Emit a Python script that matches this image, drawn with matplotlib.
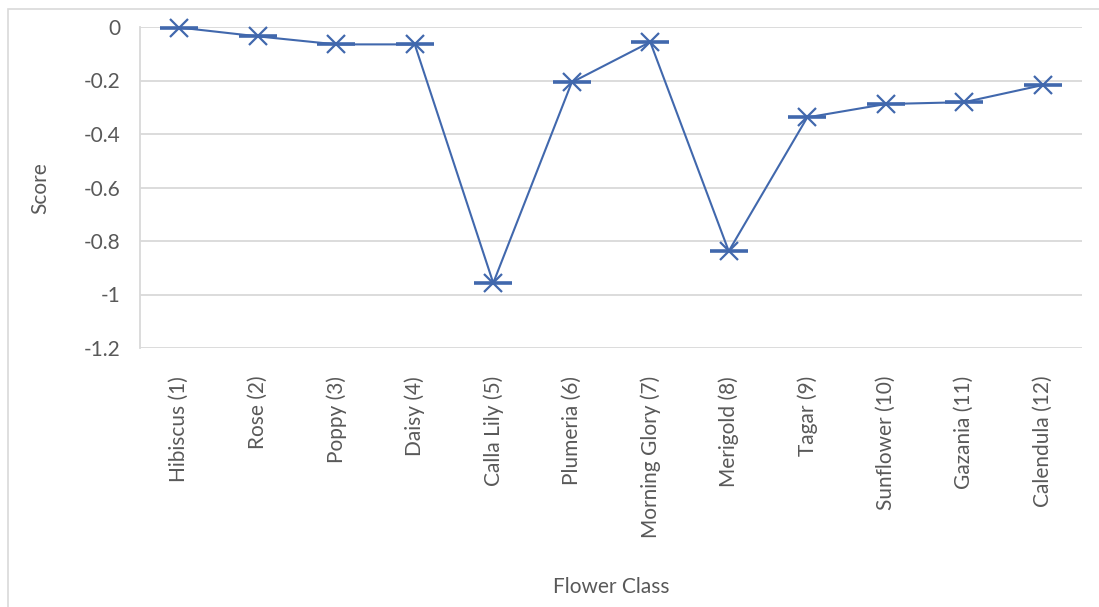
import matplotlib
matplotlib.use("Agg")
import matplotlib.pyplot as plt
from matplotlib.patches import Rectangle

categories = ["Hibiscus (1)", "Rose (2)", "Poppy (3)", "Daisy (4)", "Calla Lily (5)",
              "Plumeria (6)", "Morning Glory (7)", "Merigold (8)", "Tagar (9)",
              "Sunflower (10)", "Gazania (11)", "Calendula (12)"]
scores = [-0.002, -0.035, -0.065, -0.065, -0.957, -0.207, -0.056, -0.838,
          -0.338, -0.288, -0.281, -0.217]
y_ticks = [0, -0.2, -0.4, -0.6, -0.8, -1, -1.2]
y_tick_labels = ["0", "-0.2", "-0.4", "-0.6", "-0.8", "-1", "-1.2"]

W, H, DPI = 1099, 607, 100
plt.rcParams["font.family"] = ["Lato", "DejaVu Sans"]
text_color = "#595959"
line_color = "#4168AD"
grid_color = "#D9D9D9"

fig = plt.figure(figsize=(W / DPI, H / DPI), dpi=DPI)
fig.patch.set_facecolor("white")

# chart-area border (runs off the right and bottom edges)
fig.patches.append(Rectangle((8 / W, -0.2), 1.2, 1.2 - 9 / H, transform=fig.transFigure,
                             fill=False, edgecolor="#D9D9D9", linewidth=1.2, zorder=0))

left, right, top, bottom = 140, 1082, 27, 348
ax = fig.add_axes([left / W, 1 - bottom / H, (right - left) / W, (bottom - top) / H])

x = list(range(len(categories)))
ax.plot(x, scores, color=line_color, linewidth=1.5, zorder=3, clip_on=False)
ax.plot(x, scores, linestyle="none", marker="x", markersize=13, markeredgewidth=1.6,
        color=line_color, zorder=4, clip_on=False)
ax.plot(x, scores, linestyle="none", marker="_", markersize=28, markeredgewidth=2.6,
        color=line_color, zorder=4, clip_on=False)

ax.set_xlim(-0.5, len(categories) - 0.5)
ax.set_ylim(-1.2, 0)
ax.set_yticks(y_ticks)
ax.set_yticklabels(y_tick_labels)
ax.set_xticks(x)
ax.set_xticklabels(categories, rotation=90, va="top", ha="center")

for v in y_ticks:
    ax.axhline(v, color=grid_color, linewidth=1.3, zorder=1)

for s in ["top", "right", "bottom"]:
    ax.spines[s].set_visible(False)
ax.spines["left"].set_color(grid_color)
ax.spines["left"].set_linewidth(1.3)

ax.tick_params(axis="both", length=0, labelsize=15, colors=text_color)
ax.tick_params(axis="y", pad=14)
ax.tick_params(axis="x", pad=20)

fig.text(40 / W, 1 - 188 / H, "Score", rotation=90, ha="center", va="center",
         fontsize=15, color=text_color)
fig.text(611 / W, 1 - 587 / H, "Flower Class", ha="center", va="center",
         fontsize=15, color=text_color)

fig.savefig("out.png", dpi=DPI, facecolor="white")
